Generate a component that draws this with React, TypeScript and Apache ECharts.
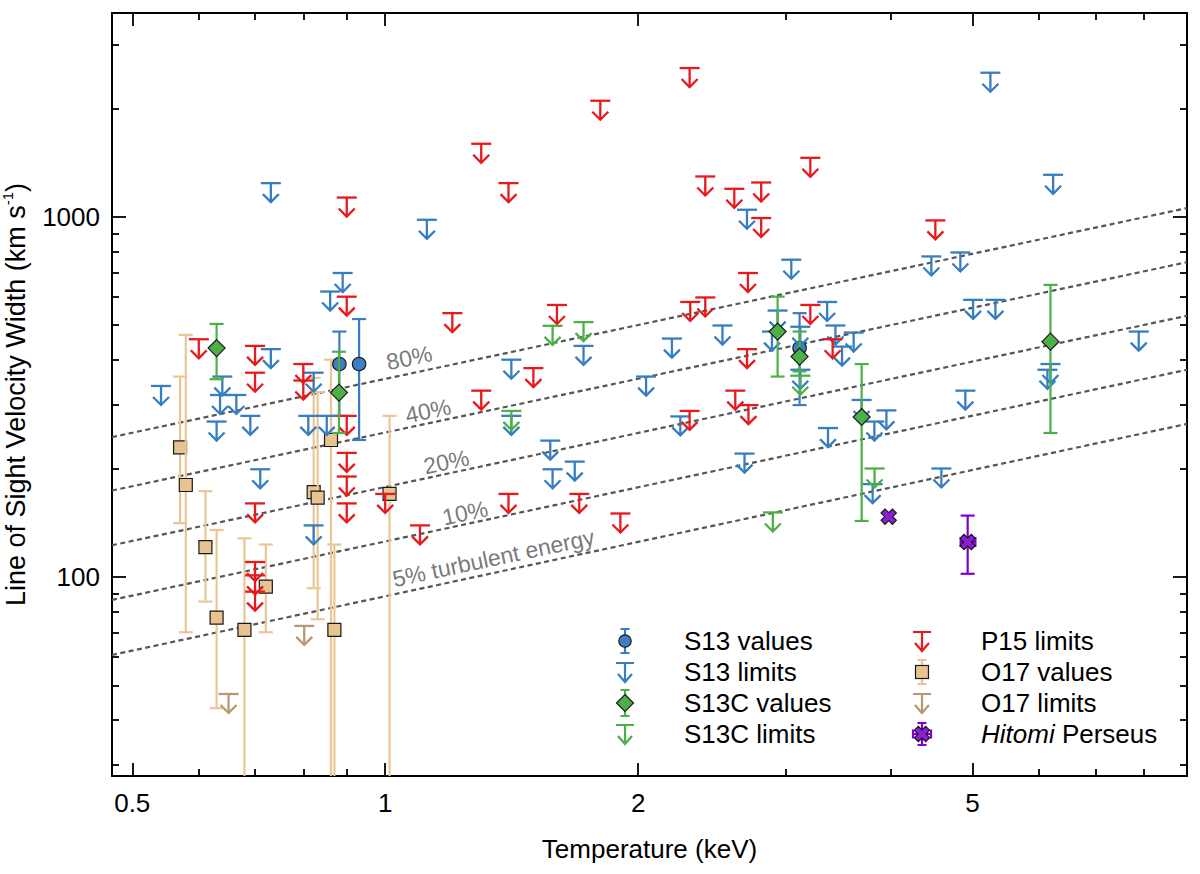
import React, { useEffect, useRef } from "react";
import * as echarts from "echarts";

// ---------- axis ranges and ticks ----------
const X_MIN = 0.473;
const X_MAX = 9.0;
const Y_MIN = 28;
const Y_MAX = 3680;
const xMajorTicks = [0.5, 1, 2, 5];
const xMinorTicks = [0.6, 0.7, 0.8, 0.9, 3, 4, 6, 7, 8];
const yMajorTicks = [100, 1000];
const yMinorTicks = [30, 40, 50, 60, 70, 80, 90, 200, 300, 400, 500, 600, 700, 800, 900, 2000, 3000];

// ---------- data: [T keV, v km/s, (lo, hi)] ----------
const s13Values = [
  [0.882, 390, 280, 480],
  [0.931, 390, 240, 520],
  [3.113, 432, 300, 540],
];
const s13Limits = [
  [0.541, 339], [0.64, 360], [0.636, 320], [0.665, 320], [0.63, 270], [0.691, 280],
  [0.731, 429], [0.731, 1240], [0.71, 199], [0.81, 280], [0.852, 280], [0.822, 369],
  [0.822, 139], [0.89, 698], [0.86, 620], [1.121, 981], [1.413, 401], [1.413, 280],
  [1.722, 438], [1.572, 239], [1.582, 199], [1.681, 209], [2.044, 360], [2.194, 459],
  [2.245, 279], [2.52, 499], [2.695, 1046], [3.043, 760], [2.931, 549], [2.886, 480],
  [3.119, 495], [3.119, 376], [3.357, 580], [3.434, 499], [3.497, 436], [3.61, 477],
  [3.69, 310], [3.949, 290], [3.821, 270], [3.365, 259], [2.677, 220], [4.591, 200],
  [3.803, 181], [4.903, 329], [4.467, 776], [4.836, 796], [5.008, 588], [5.324, 588],
  [5.251, 2512], [6.236, 1308], [6.191, 390], [6.14, 376], [7.885, 480],
];
const s13cValues = [
  [0.63, 432, 354, 504],
  [0.881, 325, 251, 422],
  [2.931, 480, 360, 600],
  [3.113, 409, 372, 480],
  [3.69, 278, 143, 390],
  [6.191, 450, 251, 647],
];
const s13cLimits = [
  [1.582, 498], [1.722, 510], [1.413, 289], [3.119, 362], [3.823, 200], [2.893, 151],
];
const p15Limits = [
  [0.6, 457], [0.7, 438], [0.7, 369], [0.7, 160], [0.7, 110], [0.7, 101], [0.7, 91],
  [0.799, 390], [0.799, 351], [0.9, 600], [0.9, 280], [0.9, 221], [0.9, 190], [0.9, 160],
  [0.9, 1131], [1.0, 170], [1.1, 139], [1.202, 540], [1.301, 329], [1.301, 1595],
  [1.402, 1240], [1.402, 170], [1.501, 380], [1.601, 569], [1.702, 170], [1.803, 2100],
  [1.905, 150], [2.303, 2588], [2.307, 580], [2.404, 597], [2.303, 289], [2.404, 1294],
  [2.603, 1196], [2.802, 1245], [2.802, 992], [2.702, 698], [2.695, 429], [2.61, 329],
  [2.706, 300], [3.206, 569], [3.408, 457], [3.206, 1458], [4.516, 977],
];
const o17Values = [
  [0.57, 229, 141, 360],
  [0.579, 180, 70.2, 470],
  [0.611, 121, 85.4, 173],
  [0.63, 77.1, 43.2, 135],
  [0.68, 71.3, 20, 128],
  [0.721, 94, 70.2, 123],
  [0.822, 172, 93, 357],
  [0.831, 166, 76.3, 326],
  [0.862, 240, 20, 401],
  [0.87, 71.3, 20, 123],
  [1.012, 170, 20, 280],
];
const o17Limits = [
  [0.651, 47.3], [0.801, 73.1],
];
// [T, v, vLo, vHi, TLo, THi]
const hitomiPerseus = [
  [3.974, 147, 147, 147, 3.974, 3.974],
  [4.934, 125, 102, 148, 4.84, 5.04],
];

// turbulent-energy reference lines (values at the left and right plot edges)
const turbLeftV = [244.5, 173.7, 122.4, 86.3, 60.7];
const turbRightV = [1057, 748, 531, 376, 266];
const turbLabelText = ["80%", "40%", "20%", "10%", "5% turbulent energy"];
const turbLabelT = [1.068, 1.125, 1.182, 1.245, 1.345];
const turbLabelV = [406, 289, 208.7, 150.6, 112.9];

// ---------- styling ----------
const FONT = "Liberation Sans, Arial, Helvetica, sans-serif";
const BLUE = "#377ec0";
const BLUE_FILL = "#3e7fc1";
const RED = "#e8191c";
const GREEN = "#4caf48";
const TAN_BAR = "#e9c795";
const TAN_FILL = "#e6c38f";
const TAN_LIMIT = "#b7996f";
const PURPLE = "#7f00d4";
const PURPLE_FILL = "#8a1fd6";
const OUTLINE = "#1a1a1a";

const LOG = Math.log10;
const fmtTick = (v: number) => String(Math.round(Math.pow(10, v) * 100) / 100);

function mkX(position: string, ticks: number[], len: number, labels: boolean, line: boolean, extra: any = {}) {
  return {
    type: "value",
    position,
    min: LOG(X_MIN),
    max: LOG(X_MAX),
    axisLine: { show: line, onZero: false, lineStyle: { color: "#000", width: 2 } },
    axisTick: { show: true, inside: true, length: len, customValues: ticks.map(LOG), lineStyle: { color: "#000", width: 1.8 } },
    axisLabel: labels
      ? { show: true, customValues: ticks.map(LOG), formatter: fmtTick, fontSize: 26, color: "#000", fontFamily: FONT, margin: 14 }
      : { show: false },
    splitLine: { show: false },
    ...extra,
  };
}
function mkY(position: string, ticks: number[], len: number, labels: boolean, line: boolean, extra: any = {}) {
  return {
    type: "value",
    position,
    min: LOG(Y_MIN),
    max: LOG(Y_MAX),
    axisLine: { show: line, onZero: false, lineStyle: { color: "#000", width: 2 } },
    axisTick: { show: true, inside: true, length: len, customValues: ticks.map(LOG), lineStyle: { color: "#000", width: 1.8 } },
    axisLabel: labels
      ? { show: true, customValues: ticks.map(LOG), formatter: fmtTick, fontSize: 26, color: "#000", fontFamily: FONT, margin: 12 }
      : { show: false },
    splitLine: { show: false },
    ...extra,
  };
}

// ---------- marker drawing helpers ----------
const mStyle = (fill: string) => ({ fill, stroke: OUTLINE, lineWidth: 1.2 });
const markers: Record<string, (cx: number, cy: number, fill: string) => any> = {
  circle: (cx, cy, fill) => ({ type: "circle", shape: { cx, cy, r: 6.7 }, style: mStyle(fill) }),
  diamond: (cx, cy, fill) => ({
    type: "polygon",
    shape: { points: [[cx, cy - 8.5], [cx + 8.5, cy], [cx, cy + 8.5], [cx - 8.5, cy]] },
    style: mStyle(fill),
  }),
  square: (cx, cy, fill) => ({ type: "rect", shape: { x: cx - 6.5, y: cy - 6.5, width: 13, height: 13 }, style: mStyle(fill) }),
  cross: (cx, cy, fill) => {
    const a = 2.8, b = 8;
    return {
      type: "polygon",
      x: cx,
      y: cy,
      rotation: Math.PI / 4,
      shape: { points: [[-a, -b], [a, -b], [a, -a], [b, -a], [b, a], [a, a], [a, b], [-a, b], [-a, a], [-b, a], [-b, -a], [-a, -a]] },
      style: mStyle(fill),
    };
  },
};

function valueSeries(name: string, rows: number[][], barColor: string, fill: string, marker: string, z: number) {
  return {
    type: "custom",
    name,
    z,
    data: rows.map((r) => r.map((v) => LOG(v))),
    encode: { x: 0, y: 1 },
    renderItem: (params: any, api: any) => {
      const cs = params.coordSys;
      const top = cs.y, bottom = cs.y + cs.height, left = cs.x, right = cs.x + cs.width;
      const x = api.value(0), y = api.value(1);
      const [cx, cy] = api.coord([x, y]);
      const ln = { stroke: barColor, lineWidth: 2.2 };
      const children: any[] = [];
      const yHiRaw = api.coord([x, api.value(3)])[1];
      const yLoRaw = api.coord([x, api.value(2)])[1];
      if (Math.abs(yLoRaw - yHiRaw) > 0.5) {
        const yHi = Math.max(yHiRaw, top);
        const yLo = Math.min(yLoRaw, bottom);
        children.push({ type: "line", shape: { x1: cx, y1: yHi, x2: cx, y2: yLo }, style: ln });
        if (yHiRaw >= top) children.push({ type: "line", shape: { x1: cx - 7, y1: yHi, x2: cx + 7, y2: yHi }, style: ln });
        if (yLoRaw <= bottom) children.push({ type: "line", shape: { x1: cx - 7, y1: yLo, x2: cx + 7, y2: yLo }, style: ln });
      }
      const xLoV = api.value(4), xHiV = api.value(5);
      if (xLoV != null && !isNaN(xLoV) && Math.abs(xHiV - xLoV) > 1e-6) {
        const xl = Math.max(api.coord([xLoV, y])[0], left);
        const xr = Math.min(api.coord([xHiV, y])[0], right);
        children.push({ type: "line", shape: { x1: xl, y1: cy, x2: xr, y2: cy }, style: ln });
        children.push({ type: "line", shape: { x1: xl, y1: cy - 5, x2: xl, y2: cy + 5 }, style: ln });
        children.push({ type: "line", shape: { x1: xr, y1: cy - 5, x2: xr, y2: cy + 5 }, style: ln });
      }
      children.push(markers[marker](cx, cy, fill));
      return { type: "group", children };
    },
  };
}

function limitSeries(name: string, rows: number[][], color: string, z: number) {
  return {
    type: "custom",
    name,
    z,
    data: rows.map((r) => r.map((v) => LOG(v))),
    encode: { x: 0, y: 1 },
    renderItem: (params: any, api: any) => {
      const [cx, cy] = api.coord([api.value(0), api.value(1)]);
      const st = { stroke: color, lineWidth: 2.3, fill: null };
      return {
        type: "group",
        children: [
          { type: "line", shape: { x1: cx - 10, y1: cy, x2: cx + 10, y2: cy }, style: st },
          { type: "line", shape: { x1: cx, y1: cy, x2: cx, y2: cy + 19 }, style: st },
          { type: "polyline", shape: { points: [[cx - 8, cy + 11], [cx, cy + 19], [cx + 8, cy + 11]] }, style: st },
        ],
      };
    },
  };
}

// ---------- legend icons ----------
const svgIcon = (inner: string) =>
  "image://data:image/svg+xml;charset=utf-8," +
  encodeURIComponent(`<svg xmlns="http://www.w3.org/2000/svg" width="66" height="30" viewBox="0 0 66 30">${inner}</svg>`);
const arrowIcon = (c: string) =>
  svgIcon(`<path d="M3 6H21M12 6V25M5 17L12 25L19 17" stroke="${c}" stroke-width="2.2" fill="none"/>`);
const barIcon = (c: string, y1 = 3, y2 = 27) =>
  `<path d="M12 ${y1}V${y2}M7.5 ${y1}H16.5M7.5 ${y2}H16.5" stroke="${c}" stroke-width="2.2" fill="none"/>`;
const iconS13Val = svgIcon(barIcon(BLUE) + `<circle cx="12" cy="15" r="6.2" fill="${BLUE_FILL}" stroke="${OUTLINE}" stroke-width="1.2"/>`);
const iconS13cVal = svgIcon(barIcon(GREEN, 2, 28) + `<polygon points="12,6.5 20.5,15 12,23.5 3.5,15" fill="${GREEN}" stroke="${OUTLINE}" stroke-width="1.2"/>`);
const iconO17Val = svgIcon(barIcon(TAN_BAR) + `<rect x="5.5" y="8.5" width="13" height="13" fill="${TAN_FILL}" stroke="${OUTLINE}" stroke-width="1.2"/>`);
const iconHitomi = svgIcon(
  barIcon(PURPLE, 4, 26) +
    `<path d="M3 15H21M3 10.5V19.5M21 10.5V19.5" stroke="${PURPLE}" stroke-width="2.2" fill="none"/>` +
    `<polygon transform="translate(12 15) rotate(45)" points="-2.8,-8 2.8,-8 2.8,-2.8 8,-2.8 8,2.8 2.8,2.8 2.8,8 -2.8,8 -2.8,2.8 -8,2.8 -8,-2.8 -2.8,-2.8" fill="${PURPLE_FILL}" stroke="${OUTLINE}" stroke-width="1.2"/>`
);

const legendBase = {
  orient: "vertical",
  top: 626,
  padding: 0,
  itemWidth: 66,
  itemHeight: 30,
  itemGap: 1,
  selectedMode: false,
  textStyle: {
    fontSize: 26,
    lineHeight: 30,
    color: "#000",
    fontFamily: FONT,
    rich: { i: { fontSize: 26, lineHeight: 30, fontStyle: "italic", fontFamily: FONT, color: "#000" } },
  },
};

function buildOption() {
  const lines = turbLeftV.map((lv, i) => ({
    type: "line",
    name: "turb" + i,
    z: 1,
    silent: true,
    showSymbol: false,
    symbol: "none",
    data: [
      [LOG(X_MIN), LOG(lv)],
      [LOG(X_MAX), LOG(turbRightV[i])],
    ],
    lineStyle: { color: "#555", width: 2.2, type: [5, 3.5] },
  }));
  const labels = {
    type: "scatter",
    name: "turbLabels",
    silent: true,
    z: 1,
    symbolSize: 0,
    data: turbLabelText.map((t, i) => ({ name: t, value: [LOG(turbLabelT[i]), LOG(turbLabelV[i])] })),
    label: { show: true, position: "inside", formatter: "{b}", rotate: 12, fontSize: 23, color: "#555", fontFamily: FONT },
  };
  return {
    animation: false,
    backgroundColor: "#fff",
    grid: { left: 112, right: 13, top: 13, bottom: 98, containLabel: false, outerBoundsMode: "none" },
    xAxis: [
      mkX("bottom", xMajorTicks, 13, true, true, {
        name: "Temperature (keV)",
        nameLocation: "middle",
        nameGap: 60,
        nameTextStyle: { fontSize: 26, color: "#000", fontFamily: FONT },
      }),
      mkX("bottom", xMinorTicks, 7, false, false),
      mkX("top", xMajorTicks, 13, false, true),
      mkX("top", xMinorTicks, 7, false, false),
    ],
    yAxis: [
      mkY("left", yMajorTicks, 14, true, true, {
        name: "Line of Sight Velocity Width (km s{sup|-1})",
        nameLocation: "middle",
        nameGap: 78,
        nameTextStyle: {
          fontSize: 27,
          lineHeight: 31,
          color: "#000",
          fontFamily: FONT,
          rich: { sup: { fontSize: 15, lineHeight: 15, verticalAlign: "top", color: "#000", fontFamily: FONT } },
        },
      }),
      mkY("left", yMinorTicks, 7, false, false),
      mkY("right", yMajorTicks, 14, false, true),
      mkY("right", yMinorTicks, 7, false, false),
    ],
    legend: [
      {
        ...legendBase,
        left: 613,
        data: [
          { name: "S13 values", icon: iconS13Val },
          { name: "S13 limits", icon: arrowIcon(BLUE) },
          { name: "S13C values", icon: iconS13cVal },
          { name: "S13C limits", icon: arrowIcon(GREEN) },
        ],
      },
      {
        ...legendBase,
        left: 910,
        formatter: (n: string) => (n === "Hitomi Perseus" ? "{i|Hitomi} Perseus" : n),
        data: [
          { name: "P15 limits", icon: arrowIcon(RED) },
          { name: "O17 values", icon: iconO17Val },
          { name: "O17 limits", icon: arrowIcon(TAN_LIMIT) },
          { name: "Hitomi Perseus", icon: iconHitomi },
        ],
      },
    ],
    series: [
      ...lines,
      labels,
      valueSeries("O17 values", o17Values, TAN_BAR, TAN_FILL, "square", 3),
      limitSeries("O17 limits", o17Limits, TAN_LIMIT, 4),
      valueSeries("S13 values", s13Values, BLUE, BLUE_FILL, "circle", 5),
      limitSeries("S13 limits", s13Limits, BLUE, 6),
      limitSeries("P15 limits", p15Limits, RED, 7),
      valueSeries("S13C values", s13cValues, GREEN, GREEN, "diamond", 8),
      limitSeries("S13C limits", s13cLimits, GREEN, 9),
      valueSeries("Hitomi Perseus", hitomiPerseus, PURPLE, PURPLE_FILL, "cross", 10),
    ],
  };
}

export default function App() {
  const ref = useRef<HTMLDivElement>(null);
  useEffect(() => {
    if (!ref.current) return;
    const chart = echarts.init(ref.current, null, { renderer: "svg" });
    chart.setOption(buildOption() as any);
    return () => chart.dispose();
  }, []);
  return (
    <div
      ref={ref}
      style={{ position: "fixed", left: 0, top: 0, width: 1200, height: 874, background: "#fff" }}
    />
  );
}
